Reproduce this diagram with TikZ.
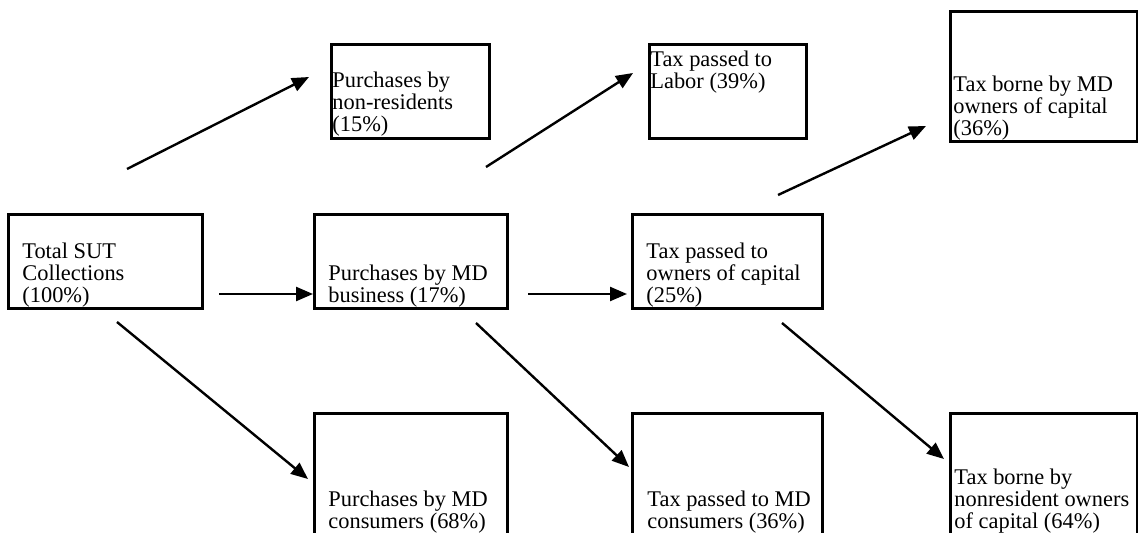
\documentclass[tikz,border=0pt]{standalone}
\usepackage{fontspec}
\setmainfont{Liberation Serif}
\usetikzlibrary{arrows.meta}
\tikzset{
  box/.style={draw, line width=1.6pt, inner sep=0pt, anchor=north west},
  txt/.style={anchor=base west, inner sep=0pt, font=\fontsize{11.2}{11}\selectfont},
  arr/.style={line width=1.2pt, -{Triangle[length=8.5pt,width=7pt]}}
}
\newcommand{\boxtext}[1]{\parbox[t]{150pt}{\raggedright #1}}
\begin{document}
\begin{tikzpicture}[x=0.5pt,y=-0.5pt]
\useasboundingbox (0,0) rectangle (1138,533);
\clip (0,0) rectangle (1138,533);
% boxes
\node (tot)    [box, minimum width=97pt,   minimum height=47pt] at (7,213) {};
\node (nonres) [box, minimum width=79pt,   minimum height=47pt] at (330,43) {};
\node (mdb)    [box, minimum width=96.5pt, minimum height=47pt] at (313,213) {};
\node (labor)  [box, minimum width=78.5pt, minimum height=47pt] at (648,43) {};
\node (own)    [box, minimum width=95pt,   minimum height=47pt] at (631,213) {};
\node (mdown)  [box, minimum width=93.5pt, minimum height=65pt] at (949,10) {};
\node (mdcons) [box, minimum width=96.5pt, minimum height=100pt] at (313,412) {};
\node (taxcons)[box, minimum width=95pt,   minimum height=100pt] at (631,412) {};
\node (nrown)  [box, minimum width=93.5pt, minimum height=100pt] at (949,412) {};
% texts
\node (ttot)    [txt] at (22,259)  {\boxtext{Total SUT\\Collections\\(100\%)}};
\node (tnonres) [txt] at (332,88)  {\boxtext{Purchases by\\non-residents\\(15\%)}};
\node (tmdb)    [txt] at (328,281) {\boxtext{Purchases by MD\\business (17\%)}};
\node (tlabor)  [txt] at (650,67)  {\boxtext{Tax passed to\\Labor (39\%)}};
\node (town)    [txt] at (646,259) {\boxtext{Tax passed to\\owners of capital\\(25\%)}};
\node (tmdown)  [txt] at (953,92)  {\boxtext{Tax borne by MD\\owners of capital\\(36\%)}};
\node (tmdcons) [txt] at (328,506) {\boxtext{Purchases by MD\\consumers (68\%)}};
\node (ttaxcons)[txt] at (647,506) {\boxtext{Tax passed to MD\\consumers (36\%)}};
\node (tnrown)  [txt] at (954,484) {\boxtext{Tax borne by\\nonresident owners\\of capital (64\%)}};
% arrow end points
\coordinate (a1s) at (127,169); \coordinate (a1e) at (309,77);
\coordinate (a2s) at (219,294); \coordinate (a2e) at (313,294);
\coordinate (a3s) at (117,322); \coordinate (a3e) at (308,479);
\coordinate (a4s) at (486,167); \coordinate (a4e) at (633,73);
\coordinate (a5s) at (528,294); \coordinate (a5e) at (627,294);
\coordinate (a6s) at (476,323); \coordinate (a6e) at (629,467);
\coordinate (a7s) at (778,195); \coordinate (a7e) at (926,126);
\coordinate (a8s) at (782,323); \coordinate (a8e) at (944,459);
\draw[arr] (a1s) -- (a1e);
\draw[arr] (a2s) -- (a2e);
\draw[arr] (a3s) -- (a3e);
\draw[arr] (a4s) -- (a4e);
\draw[arr] (a5s) -- (a5e);
\draw[arr] (a6s) -- (a6e);
\draw[arr] (a7s) -- (a7e);
\draw[arr] (a8s) -- (a8e);
\end{tikzpicture}
\end{document}
